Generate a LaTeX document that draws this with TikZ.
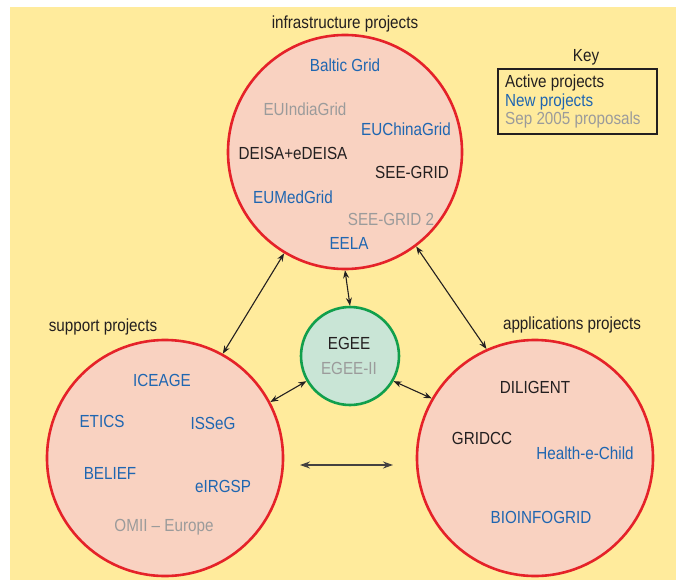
\documentclass[tikz,border=0pt]{standalone}
\usepackage{fontspec}
\setmainfont[FakeStretch=0.87]{Liberation Sans}
\usetikzlibrary{arrows.meta}
\definecolor{bgyellow}{HTML}{FFEB9C}
\definecolor{pinkfill}{HTML}{F9D2C1}
\definecolor{redline}{HTML}{E52229}
\definecolor{greenline}{HTML}{119F4C}
\definecolor{egeefill}{HTML}{C9E5D6}
\definecolor{newblue}{HTML}{1F66B1}
\definecolor{propgray}{HTML}{9B9B9B}
\definecolor{activeblack}{HTML}{231F20}
\tikzset{
  group/.style={circle, draw=redline, fill=pinkfill, line width=2.6pt, inner sep=0pt},
  core/.style={circle, draw=greenline, fill=egeefill, line width=2.6pt, inner sep=0pt},
  txt/.style={font=\fontsize{17.5}{19}\selectfont, inner sep=0pt},
  act/.style={txt, text=activeblack},
  newp/.style={txt, text=newblue},
  prop/.style={txt, text=propgray},
  link/.style={{Stealth[length=8pt,width=6pt]}-{Stealth[length=8pt,width=6pt]}, line width=1.1pt, draw=activeblack},
  biglink/.style={{Stealth[length=10pt,width=7pt]}-{Stealth[length=10pt,width=7pt]}, line width=1.8pt, draw=activeblack!85}
}
\begin{document}
\begin{tikzpicture}[x=1pt,y={(0,-1pt)}]
\useasboundingbox (0,0) rectangle (676,580);
\fill[white] (0,0) rectangle (676,580);
\fill[bgyellow] (10,7) rectangle (676,580);

% circles
\node[group, minimum size=234pt] (infra) at (345,152) {};
\node[group, minimum size=236pt] (sup) at (165,458) {};
\node[group, minimum size=236pt] (app) at (535,458) {};
\node[core, minimum size=98pt] (egee) at (350,356) {};

% titles
\node[act] (infratitle) at (345,24) {infrastructure projects};
\node[act] (suptitle) at (103,327) {support projects};
\node[act] (apptitle) at (572,325) {applications projects};

% infrastructure projects
\node[newp] (baltic) at (345,65) {Baltic Grid};
\node[prop] (euindia) at (305,109) {EUIndiaGrid};
\node[newp] (euchina) at (406,129) {EUChinaGrid};
\node[act] (deisa) at (293,153) {DEISA+eDEISA};
\node[act] (seegrid) at (412,172) {SEE-GRID};
\node[newp] (eumed) at (293,197) {EUMedGrid};
\node[prop] (seegrid2) at (391,219) {SEE-GRID 2};
\node[newp] (eela) at (349,243) {EELA};

% EGEE
\node[act] (egeet) at (349,343) {EGEE};
\node[prop] (egee2) at (349,368) {EGEE-II};

% support projects
\node[newp] (iceage) at (162,380) {ICEAGE};
\node[newp] (etics) at (102,421) {ETICS};
\node[newp] (isseg) at (213,423) {ISSeG};
\node[newp] (belief) at (110,473) {BELIEF};
\node[newp] (eirgsp) at (223,486) {eIRGSP};
\node[prop] (omii) at (164,527) {OMII -- Europe};

% applications projects
\node[act] (diligent) at (535,387) {DILIGENT};
\node[act] (gridcc) at (482,438) {GRIDCC};
\node[newp] (health) at (585,453) {Health-e-Child};
\node[newp] (bioinfo) at (541,517) {BIOINFOGRID};

% key
\node[act] (keyt) at (586,57) {Key};
\draw[activeblack, line width=1.3pt] (498,69) rectangle (657,134);
\node[act, anchor=west] (kact) at (505,83) {Active projects};
\node[newp, anchor=west] (knew) at (505,102) {New projects};
\node[prop, anchor=west] (kprop) at (505,120) {Sep 2005 proposals};

% connectors
\draw[link] (infra.239.5) -- (sup.61.3);
\draw[link] (infra.307.6) -- (app.114.9);
\draw[link] (infra.270) -- (egee.90);
\draw[link] (egee.210.2) -- (sup.28.3);
\draw[link] (egee.330.4) -- (app.150.9);
\coordinate (hl) at (300,465);
\coordinate (hr) at (393,465);
\draw[biglink] (hl) -- (hr);
\end{tikzpicture}
\end{document}
